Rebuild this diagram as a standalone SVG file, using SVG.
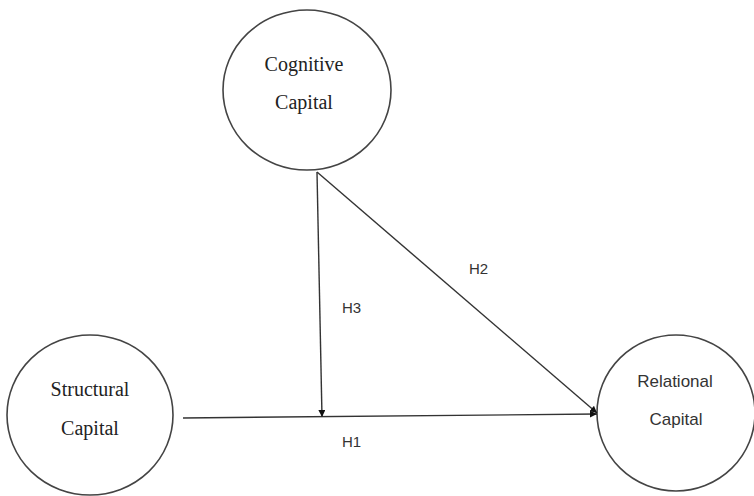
<svg xmlns="http://www.w3.org/2000/svg" width="754" height="496" viewBox="0 0 754 496">
<style>
.node{fill:#fff;stroke:#444;stroke-width:1.6}
.serif{font-family:"Liberation Serif","Times New Roman",serif;font-size:20px;fill:#222;text-anchor:middle}
.sans{font-family:"Liberation Sans",Arial,sans-serif;font-size:17px;fill:#333;text-anchor:middle}
.lbl{font-family:"Liberation Sans",Arial,sans-serif;font-size:15px;fill:#333}
.edge{stroke:#333;stroke-width:1.4;fill:none}
</style>
<defs>
<marker id="arr" viewBox="0 0 10 10" refX="10" refY="5" markerWidth="7" markerHeight="7" orient="auto" markerUnits="userSpaceOnUse">
<path d="M0,0 L10,5 L0,10 z" fill="#111"/>
</marker>
</defs>
<rect width="754" height="496" fill="#fff"/>
<g id="cognitive">
<ellipse class="node" cx="307" cy="90" rx="84" ry="80"/>
<text class="serif" x="304" y="71">Cognitive</text>
<text class="serif" x="304" y="109">Capital</text>
</g>
<g id="structural">
<ellipse class="node" cx="90" cy="415" rx="83" ry="80"/>
<text class="serif" x="90" y="396">Structural</text>
<text class="serif" x="90" y="435">Capital</text>
</g>
<g id="relational">
<ellipse class="node" cx="676" cy="413" rx="79" ry="78"/>
<text class="sans" x="675" y="387">Relational</text>
<text class="sans" x="676" y="425">Capital</text>
</g>
<g id="connectors">
<line class="edge" x1="183" y1="418" x2="597" y2="414" marker-end="url(#arr)"/>
<line class="edge" x1="317" y1="172" x2="322" y2="417" marker-end="url(#arr)"/>
<line class="edge" x1="317" y1="172" x2="597" y2="413" marker-end="url(#arr)"/>
<text class="lbl" x="342" y="313">H3</text>
<text class="lbl" x="342" y="447">H1</text>
<text class="lbl" x="469" y="274">H2</text>
</g>
</svg>
